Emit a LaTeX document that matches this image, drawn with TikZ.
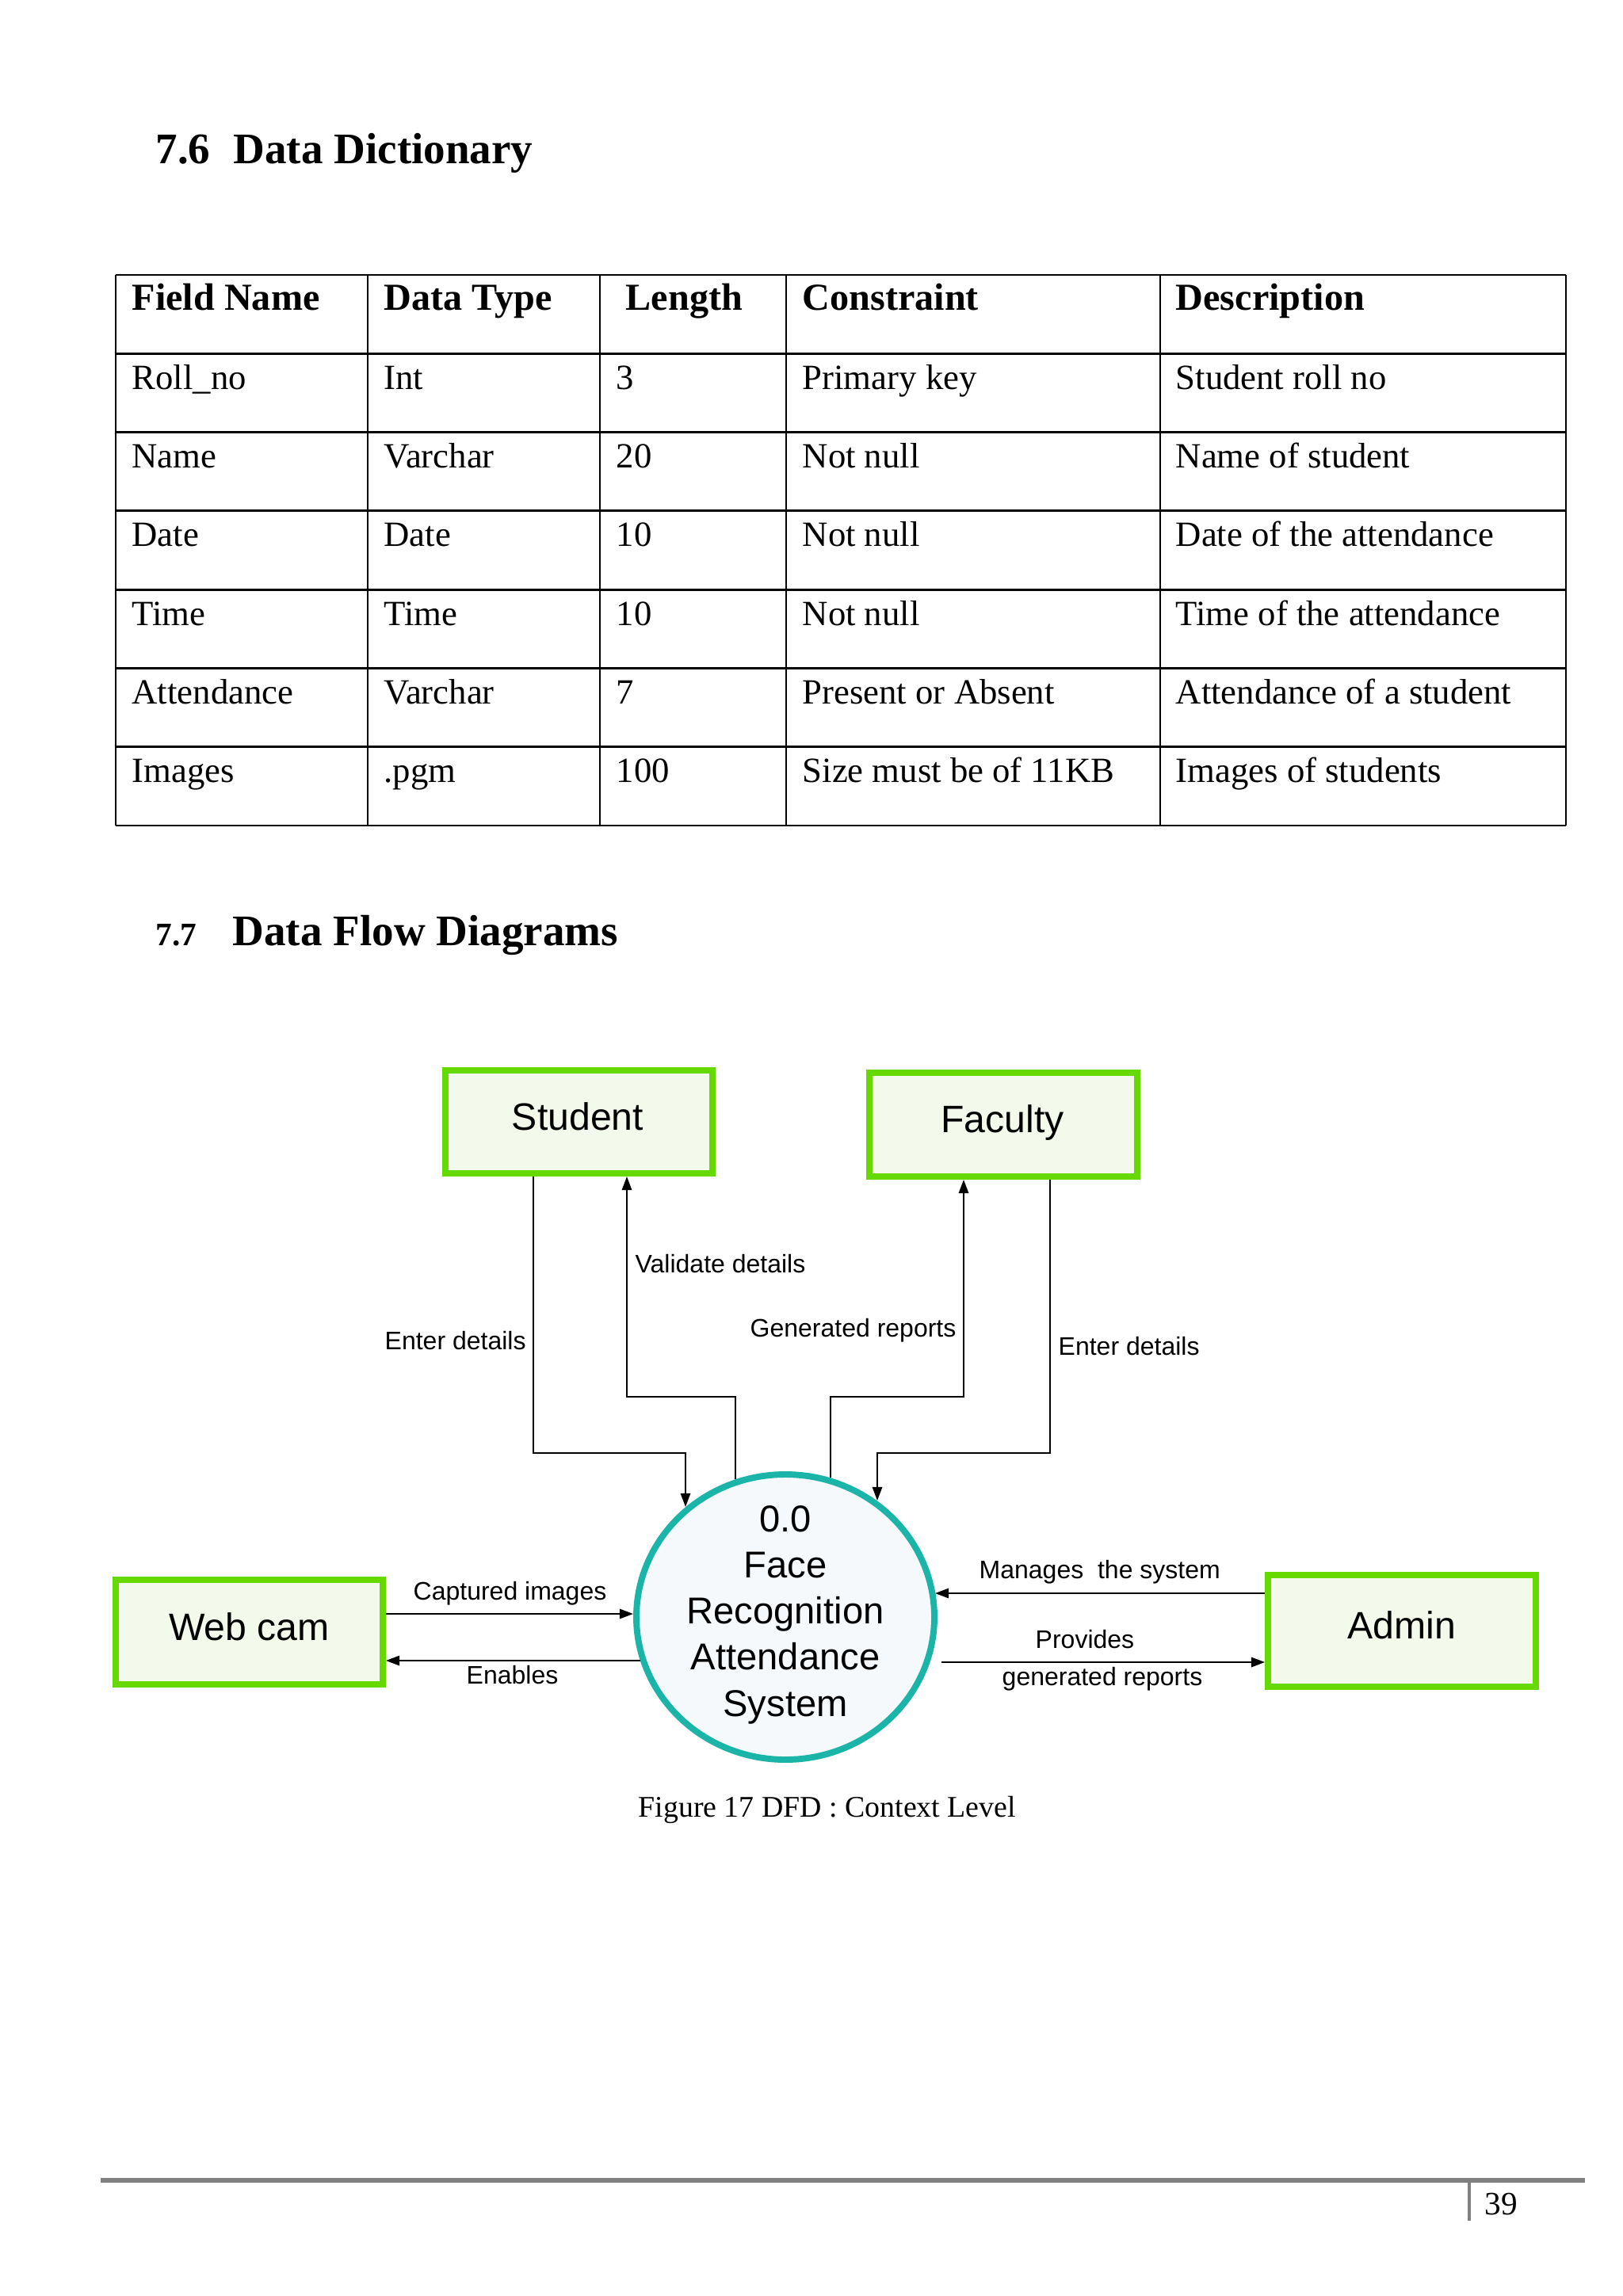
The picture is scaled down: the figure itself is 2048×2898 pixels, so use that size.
\documentclass[tikz,border=0pt]{standalone}
\usepackage{fontspec}
\setmainfont{Liberation Serif}
\newfontfamily\dfdfont{Liberation Sans}
\usetikzlibrary{arrows.meta,shapes.geometric}
\newdimen\pxu \pxu=0.2906pt
\definecolor{boxgreen}{RGB}{102,217,0}
\definecolor{boxfill}{RGB}{243,250,236}
\definecolor{sysline}{RGB}{27,180,168}
\definecolor{sysfill}{RGB}{245,249,252}
\definecolor{rulegray}{RGB}{128,128,128}
\begin{document}
\begin{tikzpicture}[x=0.2906pt, y=-0.2906pt,
  txt/.style={inner sep=0pt, anchor=base west},
  headbig/.style={txt, font=\bfseries\fontsize{16pt}{19pt}\selectfont},
  headsmall/.style={txt, font=\bfseries\fontsize{12pt}{14pt}\selectfont},
  thead/.style={txt, font=\bfseries\fontsize{14pt}{16pt}\selectfont},
  tbody/.style={txt, font=\fontsize{13pt}{15pt}\selectfont},
  tbl/.style={line width=0.8pt, black},
  entity/.style={rectangle, draw=boxgreen, fill=boxfill, line width=2.3pt, inner sep=0pt},
  enttext/.style={inner sep=0pt, anchor=base, font=\dfdfont\fontsize{14pt}{16pt}\selectfont},
  systext/.style={inner sep=0pt, anchor=base, font=\dfdfont\fontsize{13.7pt}{16pt}\selectfont},
  flowlbl/.style={txt, font=\dfdfont\fontsize{9.3pt}{11pt}\selectfont},
  flow/.style={draw=black, line width=0.6pt, -{Triangle[length=5pt,width=3.6pt]}}
]
\fill[white] (0,0) rectangle (2048,2898);
\useasboundingbox (0,0) rectangle (2048,2898);

% ---------- Heading 7.6 ----------
\node[headbig] (h76num) at (196,207) {7.6};
\node[headbig] (h76txt) at (294,207) {Data Dictionary};

% ---------- Table ----------
\foreach \yy in {347,446.29,545.57,644.86,744.14,843.43,942.71,1042}
  \draw[tbl] (146,\yy) -- (1976,\yy);
\foreach \xx in {146,464,757,992,1464,1976}
  \draw[tbl] (\xx,347) -- (\xx,1042);

\node[thead] (th1) at (166,392) {Field Name};
\node[thead] (th2) at (484,392) {Data Type};
\node[thead] (th3) at (789,392) {Length};
\node[thead] (th4) at (1012,392) {Constraint};
\node[thead] (th5) at (1483,392) {Description};

\foreach [count=\r] \a/\b/\c/\d/\e in {
  Roll\_no/Int/3/Primary key/Student roll no,
  Name/Varchar/20/Not null/Name of student,
  Date/Date/10/Not null/Date of the attendance,
  Time/Time/10/Not null/Time of the attendance,
  Attendance/Varchar/7/Present or Absent/Attendance of a student,
  Images/.pgm/100/Size must be of 11KB/Images of students}{
  \pgfmathsetmacro{\by}{347+99.29*\r+45}
  \node[tbody] (r\r c1) at (166,\by) {\a};
  \node[tbody] (r\r c2) at (484,\by) {\b};
  \node[tbody] (r\r c3) at (777,\by) {\c};
  \node[tbody] (r\r c4) at (1012,\by) {\d};
  \node[tbody] (r\r c5) at (1483,\by) {\e};
}

% ---------- Heading 7.7 ----------
\node[headsmall] (h77num) at (196,1193) {7.7};
\node[headbig] (h77txt) at (293,1193) {Data Flow Diagrams};

% ---------- DFD entities ----------
\node[entity, minimum width=337*\pxu, minimum height=130*\pxu] (student) at (730.5,1416) {};
\node[entity, minimum width=338*\pxu, minimum height=131*\pxu] (faculty) at (1266,1419.5) {};
\node[entity, minimum width=337*\pxu, minimum height=132*\pxu] (webcam) at (314.5,2060) {};
\node[entity, minimum width=338*\pxu, minimum height=141*\pxu] (admin) at (1769,2058.5) {};

\node[enttext] (studentlbl) at (729,1426.5) {Student};
\node[enttext] (facultylbl) at (1265,1429) {Faculty};
\node[enttext] (webcamlbl) at (314.5,2070) {Web cam};
\node[enttext] (adminlbl) at (1769,2068) {Admin};

% ---------- Process ----------
\node[ellipse, draw=sysline, fill=sysfill, line width=2.3pt, inner sep=0pt,
      minimum width=376*\pxu, minimum height=360*\pxu] (sys) at (991,2041) {};
\node[systext] (sysl1) at (991,1933) {0.0};
\node[systext] (sysl2) at (991,1991) {Face};
\node[systext] (sysl3) at (991,2049) {Recognition};
\node[systext] (sysl4) at (991,2107) {Attendance};
\node[systext] (sysl5) at (991,2166) {System};

% ---------- Connection points ----------
\coordinate (sLbend) at (673,1834);
\coordinate (sLend) at (865,1902);
\coordinate (vStart) at (928,1867);
\coordinate (vBend) at (791,1763);
\coordinate (gStart) at (1048,1865);
\coordinate (gBend) at (1216,1763);
\coordinate (fBend) at (1325,1834);
\coordinate (fEnd) at (1107,1894);
\coordinate (capEnd) at (799,2037);
\coordinate (enStart) at (808,2096);
\coordinate (manEnd) at (1180,2011);
\coordinate (provStart) at (1188,2098);

% ---------- Flows ----------
\draw[flow] (student.south -| sLbend) -- (sLbend) -| (sLend);
\draw[flow] (vStart) |- (vBend) -- (student.south -| vBend);
\draw[flow] (gStart) |- (gBend) -- (faculty.south -| gBend);
\draw[flow] (faculty.south -| fBend) -- (fBend) -| (fEnd);
\draw[flow] (webcam.east |- capEnd) -- (capEnd);
\draw[flow] (enStart) -- (webcam.east |- enStart);
\draw[flow] (admin.west |- manEnd) -- (manEnd);
\draw[flow] (provStart) -- (admin.west |- provStart);

% ---------- Flow labels ----------
\node[flowlbl] (lEnterL) at (485,1703) {Enter details};
\node[flowlbl] (lValidate) at (801,1606.5) {Validate details};
\node[flowlbl] (lGenerated) at (946,1687) {Generated reports};
\node[flowlbl] (lEnterR) at (1335,1710) {Enter details};
\node[flowlbl] (lCaptured) at (521,2019) {Captured images};
\node[flowlbl] (lEnables) at (588,2125) {Enables};
\node[flowlbl] (lManages) at (1235,1992) {Manages\ \ the system};
\node[flowlbl] (lProvides) at (1306,2080) {Provides};
\node[flowlbl] (lGenRep) at (1264,2127) {generated reports};

% ---------- Caption ----------
\node[txt, font=\fontsize{11pt}{13pt}\selectfont] (caption) at (805,2293) {Figure 17 DFD : Context Level};

% ---------- Footer ----------
\draw[rulegray, line width=1.65pt] (127,2752) -- (2000,2752);
\draw[rulegray, line width=1.4pt] (1854,2755) -- (1854,2803);
\node[txt, font=\fontsize{12pt}{14pt}\selectfont] (pagenum) at (1873,2795) {39};
\end{tikzpicture}
\end{document}
